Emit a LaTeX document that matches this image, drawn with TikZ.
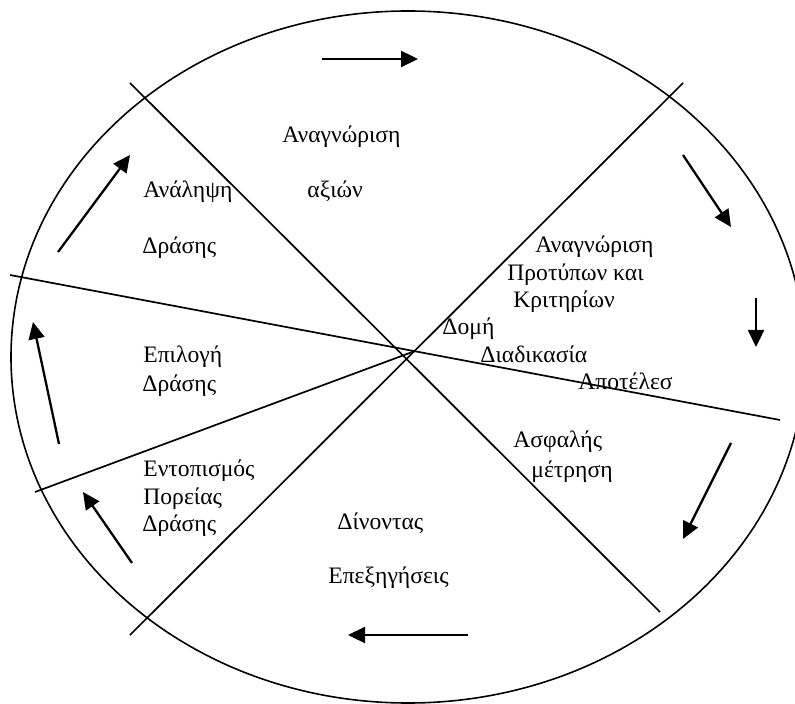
\documentclass[tikz,border=0pt]{standalone}
\usepackage{fontspec}
\setmainfont{Liberation Serif}
\usepackage{tikz}
\usetikzlibrary{arrows.meta}
\definecolor{ink}{HTML}{000000}

\begin{document}
\begin{tikzpicture}[x=0.5pt, y=-0.5pt,
    lbl/.style={anchor=base west, inner sep=0pt, text=ink,
                font=\fontsize{11.8}{14}\selectfont},
    spoke/.style={ink, line width=0.85pt},
    flow/.style={ink, line width=1.15pt,
                 -{Triangle[length=8.5pt, width=8pt]}}]
  % page = reference size, 1 unit = 1 px of the reference
  \useasboundingbox (0,0) rectangle (795,704);

  % Outer ring (its right rim runs past the page)
  \draw[ink, line width=0.8pt] (408,357) ellipse [x radius=397, y radius=346];

  % Spokes
  \draw[spoke] (130,83)  -- (660,612);
  \draw[spoke] (683,83)  -- (130,635);
  \draw[spoke] (10,275)  -- (780,420);
  \draw[spoke] (35,492)  -- (415,351);

  % Clockwise arrows round the rim
  \foreach \xa/\ya/\xb/\yb in {
    322/59/418/59,
    683/155/731/227,
    756/298/756/347,
    731/443/683/539,
    468/635/348/635,
    132/563/83/492,
    59/444/33/322,
    58/252/130/155
  }{
    \draw[flow] (\xa,\ya) -- (\xb,\yb);
  }

  % Sector labels (base-left points)
  \foreach \nm/\xx/\yy/\txt in {
    valA/282/143/Αναγνώριση,
    valB/307/198/αξιών,
    takeA/143/198/Ανάληψη,
    takeB/142/254/Δράσης,
    normA/535/253/Αναγνώριση,
    normB/507/281/Προτύπων και,
    normC/513/308/Κριτηρίων,
    coreA/442/335/Δομή,
    coreB/480/363/Διαδικασία,
    coreC/578/389/Αποτέλεσ,
    safeA/513/447/Ασφαλής,
    safeB/531/477/μέτρηση,
    pickA/143/363/Επιλογή,
    pickB/142/392/Δράσης,
    findA/143/476/Εντοπισμός,
    findB/143/504/Πορείας,
    findC/142/531/Δράσης,
    giveA/337/529/Δίνοντας,
    giveB/328/583/Επεξηγήσεις
  }{
    \node[lbl] (\nm) at (\xx,\yy) {\txt};
  }
\end{tikzpicture}
\end{document}
